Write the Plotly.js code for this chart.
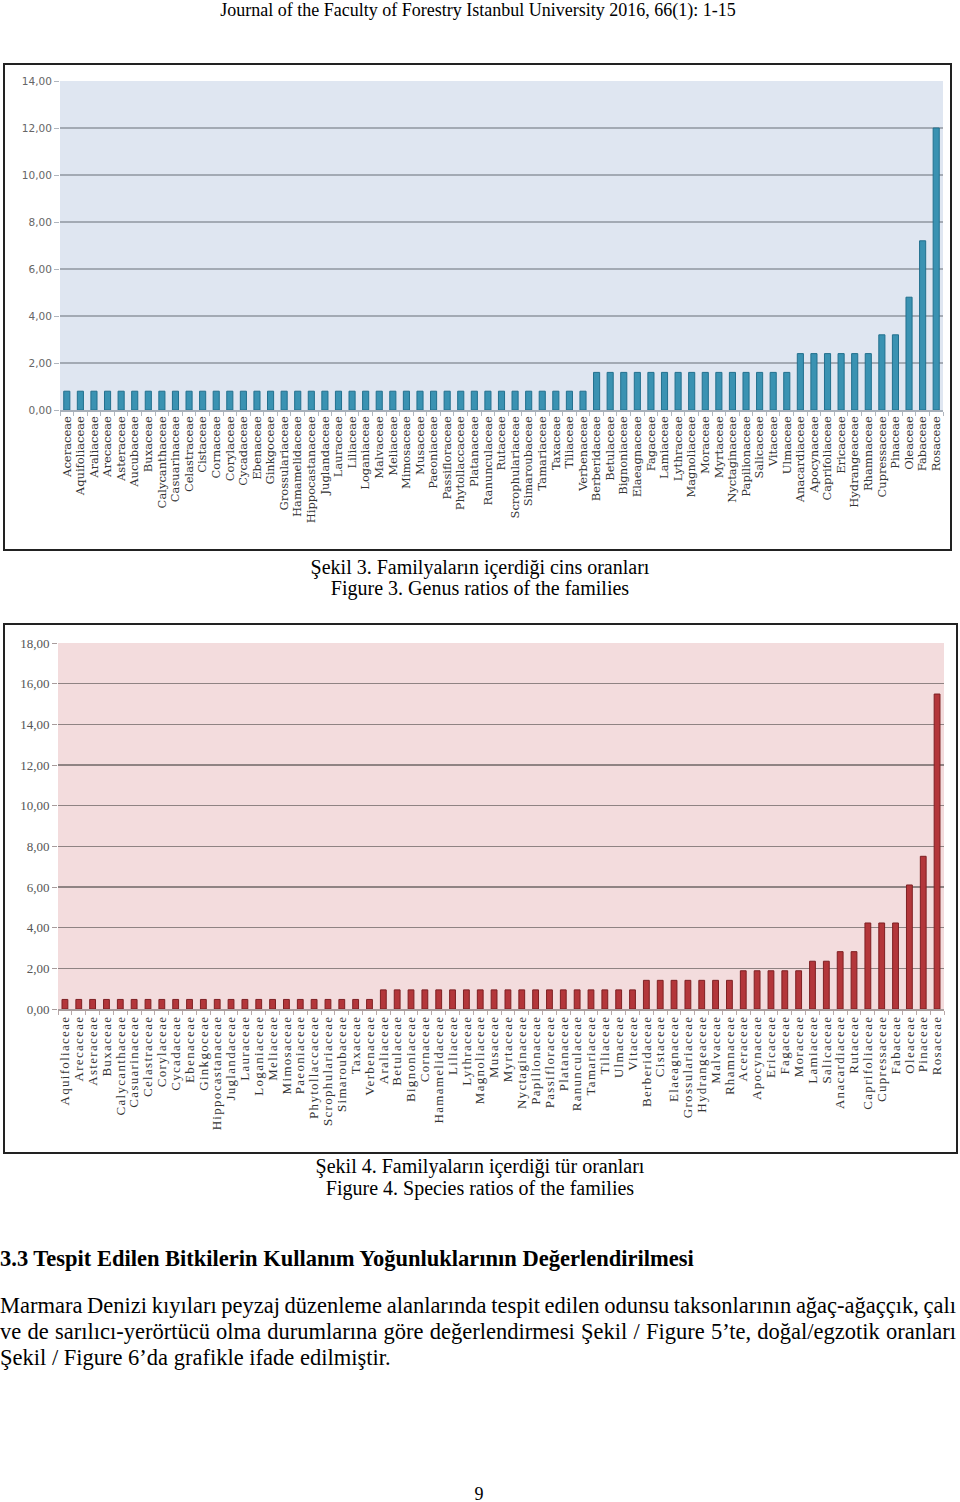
<!DOCTYPE html>
<html>
<head>
<meta charset="utf-8">
<script src="https://cdn.plot.ly/plotly-3.0.1.min.js"></script>
<style>
  html, body { margin: 0; padding: 0; background: #ffffff; }
  body { width: 960px; height: 1502px; position: relative; overflow: hidden; font-family: "Liberation Serif", "Times New Roman", serif; color: #000; }
  .t { position: absolute; white-space: nowrap; }
  .box { position: absolute; border: 2px solid #222; box-sizing: border-box; background: #fff; }
  .plot { position: absolute; left: 0; top: 0; }
  .just { position: absolute; left: 0; width: 956px; white-space: nowrap; text-align: justify; text-align-last: justify; font-size: 22.5px; line-height: 26px; word-spacing: -3px; }
  #chart2 .xtick text { letter-spacing: 1.3px; }
</style>
</head>
<body>
<div class="t" style="left:0;width:956px;text-align:center;top:0;font-size:18px;line-height:20px;">Journal of the Faculty of Forestry Istanbul University 2016, 66(1): 1-15</div>

<div class="box" style="left:3px;top:63px;width:949px;height:488px;"><div id="chart1" class="plot"></div></div>

<div class="t" style="left:0;width:960px;text-align:center;top:555px;font-size:20px;line-height:24px;">Şekil 3. Familyaların içerdiği cins oranları</div>
<div class="t" style="left:0;width:960px;text-align:center;top:576px;font-size:20px;line-height:24px;">Figure 3. Genus ratios of the families</div>

<div class="box" style="left:3px;top:623px;width:955px;height:531px;"><div id="chart2" class="plot"></div></div>

<div class="t" style="left:0;width:960px;text-align:center;top:1154px;font-size:20px;line-height:24px;">Şekil 4. Familyaların içerdiği tür oranları</div>
<div class="t" style="left:0;width:960px;text-align:center;top:1176px;font-size:20px;line-height:24px;">Figure 4. Species ratios of the families</div>

<div class="t" style="left:0;top:1246px;font-size:22.5px;line-height:26px;font-weight:bold;">3.3 Tespit Edilen Bitkilerin Kullanım Yoğunluklarının Değerlendirilmesi</div>

<div class="just" style="top:1293px;">Marmara Denizi kıyıları peyzaj düzenleme alanlarında tespit edilen odunsu taksonlarının ağaç-ağaççık, çalı</div>
<div class="just" style="top:1319px;">ve de sarılıcı-yerörtücü olma durumlarına göre değerlendirmesi Şekil / Figure 5’te, doğal/egzotik oranları</div>
<div class="t" style="left:0;top:1345px;font-size:22.5px;line-height:26px;">Şekil / Figure 6’da grafikle ifade edilmiştir.</div>

<div class="t" style="left:0;width:958px;text-align:center;top:1484px;font-size:18px;line-height:20px;">9</div>

<script>
// ---------- Figure 3: genus ratios of the families (%) ----------
const genusFamilies = [
  "Aceraceae","Aquifoliaceae","Araliaceae","Arecaceae","Asteraceae","Aucubaceae","Buxaceae",
  "Calycanthaceae","Casuarinaceae","Celastraceae","Cistaceae","Cornaceae","Corylaceae","Cycadaceae",
  "Ebenaceae","Ginkgoceae","Grossulariaceae","Hamamelidaceae","Hippocastanaceae","Juglandaceae",
  "Lauraceae","Liliaceae","Loganiaceae","Malvaceae","Meliaceae","Mimosaceae","Musaceae",
  "Paeoniaceae","Passifloraceae","Phytollaccaceae","Platanaceae","Ranunculaceae","Rutaceae",
  "Scrophulariaceae","Simaroubaceae","Tamariaceae","Taxaceae","Tiliaceae","Verbenaceae",
  "Berberidaceae","Betulaceae","Bignoniaceae","Elaeagnaceae","Fagaceae","Lamiaceae","Lythraceae",
  "Magnoliaceae","Moraceae","Myrtaceae","Nyctaginaceae","Papilionaceae","Salicaceae","Vitaceae",
  "Ulmaceae","Anacardiaceae","Apocynaceae","Caprifoliaceae","Ericaceae","Hydrangeaceae",
  "Rhamnaceae","Cupressaceae","Pinaceae","Oleaceae","Fabaceae","Rosaceae"
];
const genusRatios = [
  0.8,0.8,0.8,0.8,0.8,0.8,0.8,0.8,0.8,0.8,
  0.8,0.8,0.8,0.8,0.8,0.8,0.8,0.8,0.8,0.8,
  0.8,0.8,0.8,0.8,0.8,0.8,0.8,0.8,0.8,0.8,
  0.8,0.8,0.8,0.8,0.8,0.8,0.8,0.8,0.8,
  1.6,1.6,1.6,1.6,1.6,1.6,1.6,1.6,1.6,1.6,1.6,1.6,1.6,1.6,1.6,
  2.4,2.4,2.4,2.4,2.4,2.4,
  3.2,3.2,
  4.8,7.2,12.0
];
const genusTickVals = [0,2,4,6,8,10,12,14];

// ---------- Figure 4: species ratios of the families (%) ----------
const speciesFamilies = [
  "Aquifoliaceae","Arecaceae","Asteraceae","Buxaceae","Calycanthaceae","Casuarinaceae",
  "Celastraceae","Corylaceae","Cycadaceae","Ebenaceae","Ginkgoceae","Hippocastanaceae",
  "Juglandaceae","Lauraceae","Loganiaceae","Meliaceae","Mimosaceae","Paeoniaceae",
  "Phytollaccaceae","Scrophulariaceae","Simaroubaceae","Taxaceae","Verbenaceae",
  "Araliaceae","Betulaceae","Bignoniaceae","Cornaceae","Hamamelidaceae","Liliaceae",
  "Lythraceae","Magnoliaceae","Musaceae","Myrtaceae","Nyctaginaceae","Papilionaceae",
  "Passifloraceae","Platanaceae","Ranunculaceae","Tamariaceae","Tiliaceae","Ulmaceae","Vitaceae",
  "Berberidaceae","Cistaceae","Elaeagnaceae","Grossulariaceae","Hydrangeaceae","Malvaceae",
  "Rhamnaceae","Aceraceae","Apocynaceae","Ericaceae","Fagaceae","Moraceae","Lamiaceae",
  "Salicaceae","Anacardiaceae","Rutaceae","Caprifoliaceae","Cupressaceae","Fabaceae",
  "Oleaceae","Pinaceae","Rosaceae"
];
const speciesRatios = [
  0.47,0.47,0.47,0.47,0.47,0.47,0.47,0.47,0.47,0.47,
  0.47,0.47,0.47,0.47,0.47,0.47,0.47,0.47,0.47,0.47,
  0.47,0.47,0.47,
  0.94,0.94,0.94,0.94,0.94,0.94,0.94,0.94,0.94,0.94,
  0.94,0.94,0.94,0.94,0.94,0.94,0.94,0.94,0.94,
  1.41,1.41,1.41,1.41,1.41,1.41,1.41,
  1.88,1.88,1.88,1.88,1.88,
  2.35,2.35,
  2.82,2.82,
  4.23,4.23,4.23,
  6.10,7.51,15.49
];
const speciesTickVals = [0,2,4,6,8,10,12,14,16,18];

const config = {staticPlot: true, displayModeBar: false};

Plotly.newPlot('chart1', [{
  type: 'bar',
  x: genusFamilies,
  y: genusRatios,
  width: 0.45,
  marker: {color: '#3a92b2', line: {color: '#22708e', width: 1}},
  hoverinfo: 'none'
}], {
  width: 945, height: 484,
  margin: {l: 55, r: 7, t: 16, b: 139},
  paper_bgcolor: '#ffffff',
  plot_bgcolor: '#dfe6f1',
  separators: ',.',
  showlegend: false,
  xaxis: {
    type: 'category',
    range: [-0.5, genusFamilies.length - 0.5],
    tickmode: 'array',
    tickvals: genusFamilies,
    ticktext: genusFamilies,
    tickangle: -90,
    tickfont: {family: 'DejaVu Serif', size: 11.5, color: '#333333'},
    ticks: 'outside', ticklen: 4, tickcolor: '#b0b6be', tickson: 'boundaries',
    showline: true, linecolor: '#a7afb9', linewidth: 1.5,
    showgrid: false, automargin: false
  },
  yaxis: {
    range: [0, 14],
    tickvals: genusTickVals,
    tickformat: '.2f',
    tickfont: {family: 'DejaVu Sans', size: 10.5, color: '#666666'},
    ticks: 'outside', ticklen: 5, tickcolor: '#b0b6be',
    showgrid: true, gridcolor: '#a3aab4', gridwidth: 1.5,
    zeroline: false, showline: false, automargin: false
  }
}, config);

Plotly.newPlot('chart2', [{
  type: 'bar',
  x: speciesFamilies,
  y: speciesRatios,
  width: 0.42,
  marker: {color: '#b3363a', line: {color: '#7e1f22', width: 1}},
  hoverinfo: 'none'
}], {
  width: 951, height: 527,
  margin: {l: 53, r: 12, t: 18, b: 143},
  paper_bgcolor: '#ffffff',
  plot_bgcolor: '#f3dcdd',
  separators: ',.',
  showlegend: false,
  xaxis: {
    type: 'category',
    range: [-0.5, speciesFamilies.length - 0.5],
    tickmode: 'array',
    tickvals: speciesFamilies,
    ticktext: speciesFamilies,
    tickangle: -90,
    tickfont: {family: 'Liberation Serif', size: 13, color: '#333333'},
    ticks: 'outside', ticklen: 4, tickcolor: '#b8a8a8', tickson: 'boundaries',
    showline: true, linecolor: '#a89c9c', linewidth: 1.5,
    showgrid: false, automargin: false
  },
  yaxis: {
    range: [0, 18],
    tickvals: speciesTickVals,
    tickformat: '.2f',
    tickfont: {family: 'Liberation Serif', size: 13, color: '#555555'},
    ticks: 'outside', ticklen: 5, tickcolor: '#a89c9c',
    showgrid: true, gridcolor: '#8f8383', gridwidth: 1.5,
    zeroline: false, showline: false, automargin: false
  }
}, config);
</script>
</body>
</html>
